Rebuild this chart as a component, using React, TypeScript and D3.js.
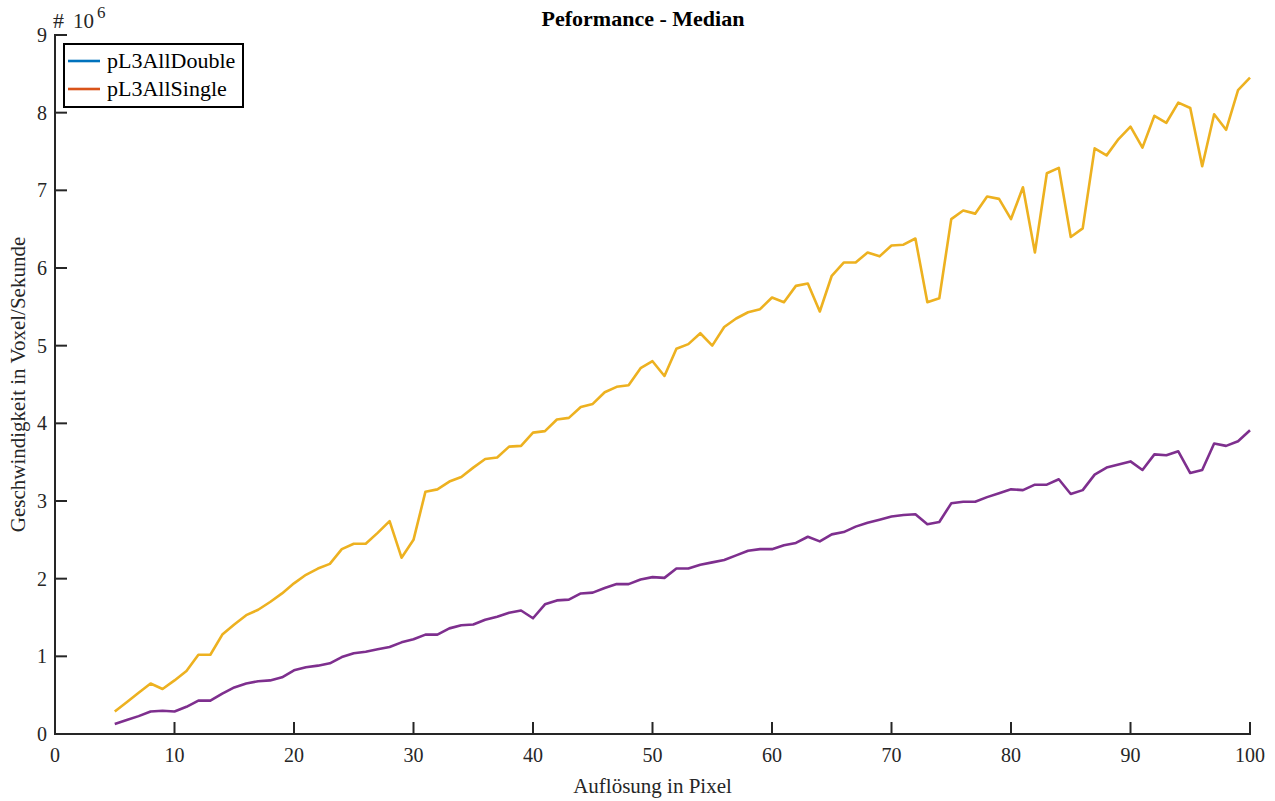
import { useMemo } from "react"
import * as d3 from "d3"

// Auflösung 5..100
const resolution = [
  5, 6, 7, 8, 9, 10, 11, 12, 13, 14, 15, 16, 17, 18, 19, 20, 21, 22, 23, 24, 25, 26, 27, 28, 29, 30,
  31, 32, 33, 34, 35, 36, 37, 38, 39, 40, 41, 42, 43, 44, 45, 46, 47, 48, 49, 50, 51, 52, 53, 54, 55,
  56, 57, 58, 59, 60, 61, 62, 63, 64, 65, 66, 67, 68, 69, 70, 71, 72, 73, 74, 75, 76, 77, 78, 79, 80,
  81, 82, 83, 84, 85, 86, 87, 88, 89, 90, 91, 92, 93, 94, 95, 96, 97, 98, 99, 100,
]

// Werte in 1e6 Voxel/Sekunde
const yellowSeries = [
  0.29, 0.41, 0.53, 0.65, 0.58, 0.69, 0.81, 1.02, 1.02, 1.28, 1.41, 1.53, 1.6, 1.7, 1.81, 1.94, 2.05,
  2.13, 2.19, 2.38, 2.45, 2.45, 2.59, 2.74, 2.27, 2.5, 3.12, 3.15, 3.25, 3.31, 3.43, 3.54, 3.56, 3.7,
  3.71, 3.88, 3.9, 4.05, 4.07, 4.21, 4.25, 4.4, 4.47, 4.49, 4.71, 4.8, 4.61, 4.96, 5.02, 5.16, 5.0,
  5.24, 5.35, 5.43, 5.47, 5.62, 5.56, 5.77, 5.8, 5.44, 5.9, 6.07, 6.07, 6.2, 6.15, 6.29, 6.3, 6.38,
  5.56, 5.61, 6.63, 6.74, 6.7, 6.92, 6.89, 6.63, 7.04, 6.2, 7.22, 7.29, 6.4, 6.51, 7.54, 7.45, 7.66,
  7.82, 7.55, 7.96, 7.87, 8.13, 8.06, 7.31, 7.98, 7.78, 8.29, 8.45,
]

const purpleSeries = [
  0.13, 0.18, 0.23, 0.29, 0.3, 0.29, 0.35, 0.43, 0.43, 0.52, 0.6, 0.65, 0.68, 0.69, 0.73, 0.82, 0.86,
  0.88, 0.91, 0.99, 1.04, 1.06, 1.09, 1.12, 1.18, 1.22, 1.28, 1.28, 1.36, 1.4, 1.41, 1.47, 1.51, 1.56,
  1.59, 1.49, 1.67, 1.72, 1.73, 1.81, 1.82, 1.88, 1.93, 1.93, 1.99, 2.02, 2.01, 2.13, 2.13, 2.18,
  2.21, 2.24, 2.3, 2.36, 2.38, 2.38, 2.43, 2.46, 2.54, 2.48, 2.57, 2.6, 2.67, 2.72, 2.76, 2.8, 2.82,
  2.83, 2.7, 2.73, 2.97, 2.99, 2.99, 3.05, 3.1, 3.15, 3.14, 3.21, 3.21, 3.28, 3.09, 3.14, 3.34, 3.43,
  3.47, 3.51, 3.4, 3.6, 3.59, 3.64, 3.36, 3.4, 3.74, 3.71, 3.77, 3.91,
]

const legendNames = ["pL3AllDouble", "pL3AllSingle"]
const legendColors = ["#0072BD", "#D95319"]
const xTicks = [0, 10, 20, 30, 40, 50, 60, 70, 80, 90, 100]
const yTicks = [0, 1, 2, 3, 4, 5, 6, 7, 8, 9]

export default function App() {
  const width = 1275
  const height = 801
  const left = 55
  const right = 1250
  const top = 35
  const bottom = 734
  const font = "'Liberation Serif', 'Times New Roman', serif"

  const x = d3.scaleLinear().domain([0, 100]).range([left, right])
  const y = d3.scaleLinear().domain([0, 9]).range([bottom, top])

  const line = useMemo(
    () =>
      d3
        .line<number>()
        .x((_, i) => x(resolution[i]))
        .y((d) => y(d)),
    []
  )

  const tickLen = 12

  return (
    <svg
      width={width}
      height={height}
      style={{ position: "absolute", left: 0, top: 0, background: "#fff" }}
      fontFamily={font}
    >
      <rect width={width} height={height} fill="#fff" />

      {/* Linien */}
      <path d={line(yellowSeries) || ""} fill="none" stroke="#EDB120" strokeWidth={2.6} strokeLinejoin="round" />
      <path d={line(purpleSeries) || ""} fill="none" stroke="#7E2F8E" strokeWidth={2.6} strokeLinejoin="round" />

      {/* Achsen */}
      <g stroke="#262626" strokeWidth={2} fill="none">
        <line x1={left} y1={top - 1} x2={left} y2={bottom + 1} />
        <line x1={left - 1} y1={bottom} x2={right + 1} y2={bottom} />
        {xTicks.map((t) => (
          <line key={"xt" + t} x1={x(t)} x2={x(t)} y1={bottom} y2={bottom - tickLen} />
        ))}
        {yTicks.map((t) => (
          <line key={"yt" + t} x1={left} x2={left + tickLen} y1={y(t)} y2={y(t)} />
        ))}
      </g>

      <g fill="#262626" fontSize={20}>
        {xTicks.map((t) => (
          <text key={"xl" + t} x={x(t)} y={bottom + 28} textAnchor="middle">
            {t}
          </text>
        ))}
        {yTicks.map((t) => (
          <text key={"yl" + t} x={left - 8} y={y(t) + 7} textAnchor="end">
            {t}
          </text>
        ))}
      </g>

      {/* Exponent */}
      <g fill="#262626">
        <text x={53} y={28} fontSize={22}>#</text>
        <text x={73} y={28} fontSize={21}>10</text>
        <text x={97} y={18} fontSize={17}>6</text>
      </g>

      {/* Titel & Beschriftung */}
      <text x={643} y={26} textAnchor="middle" fontSize={22} fontWeight="bold" fill="#000">
        Peformance - Median
      </text>
      <text x={(left + right) / 2} y={793} textAnchor="middle" fontSize={21} fill="#262626">
        Auflösung in Pixel
      </text>
      <text
        transform={`translate(25,${(top + bottom) / 2}) rotate(-90)`}
        textAnchor="middle"
        fontSize={21}
        fill="#262626"
      >
        Geschwindigkeit in Voxel/Sekunde
      </text>

      {/* Legende */}
      <g>
        <rect x={64} y={44} width={179} height={63} fill="#fff" stroke="#000" strokeWidth={2} />
        {legendNames.map((n, i) => (
          <g key={n}>
            <line x1={68} x2={100} y1={61 + i * 28} y2={61 + i * 28} stroke={legendColors[i]} strokeWidth={2.6} />
            <text x={107} y={68 + i * 28} fontSize={22} fill="#000">
              {n}
            </text>
          </g>
        ))}
      </g>
    </svg>
  )
}
